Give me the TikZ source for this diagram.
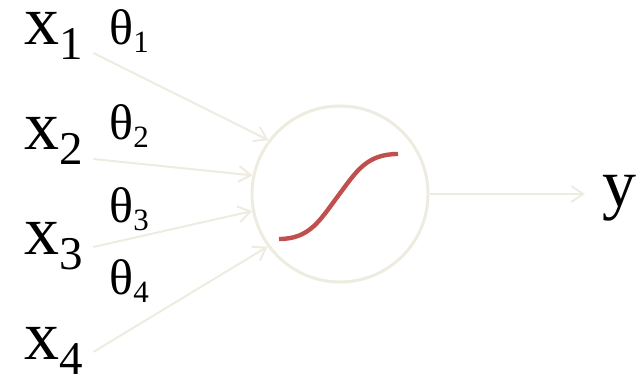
\documentclass[tikz,border=0pt]{standalone}
\usepackage{fontspec}
\setmainfont{Liberation Serif}
\usetikzlibrary{arrows.meta, positioning}
\definecolor{PaleStone}{HTML}{EEECE1}
\definecolor{BrickRed}{HTML}{C0504D}

% labels with a lowered index
\newcommand{\inlabel}[1]{{\fontsize{35}{40}\selectfont x}\raisebox{-7.5pt}{\fontsize{23.5}{28}\selectfont #1}}
\newcommand{\wlabel}[1]{{\fontsize{25}{28}\selectfont θ}\raisebox{-4pt}{\fontsize{15.5}{18}\selectfont #1}}

\begin{document}
\begin{tikzpicture}[
    x=0.5pt, y=-0.5pt,
    txt/.style={inner sep=0pt, anchor=base west, text=black},
    unit/.style={circle, draw=PaleStone, line width=1.5pt, minimum size=88pt, inner sep=0pt},
    link/.style={-{Straight Barb[length=6pt, width=8pt]}, line width=1pt, PaleStone},
    sigmoid/.style={BrickRed, line width=2.2pt},
]
\useasboundingbox (0,0) rectangle (636,378);

% neuron
\node[unit] (neuron) at (340,194) {};

% inputs and weights
\foreach \i/\y in {1/45, 2/150, 3/255, 4/360}
    \node[txt] (in\i) at (24,\y) {\inlabel{\i}};
\foreach \i/\y in {1/45, 2/140, 3/223, 4/295}
    \node[txt] (w\i) at (109,\y) {\wlabel{\i}};

\foreach \i/\dy/\ang in {1/8/143.5, 2/9/168, 3/-8/191, 4/-8/216.5}
    \draw[link] ([shift={(10,\dy)}]in\i.base east) -- (neuron.\ang);

% activation curve
\draw[sigmoid] ([shift={(-61,45)}]neuron.center)
    .. controls +(31,0) and +(-18,24) .. ([shift={(-2,2)}]neuron.center)
    .. controls +(18,-24) and +(-32,0) .. ([shift={(58,-40)}]neuron.center);

% output
\node[txt] (out) at (602,207) {\fontsize{34}{40}\selectfont y};
\draw[link, shorten >=8.5pt] (neuron.east) -- (neuron.east -| out.west);

\end{tikzpicture}
\end{document}
